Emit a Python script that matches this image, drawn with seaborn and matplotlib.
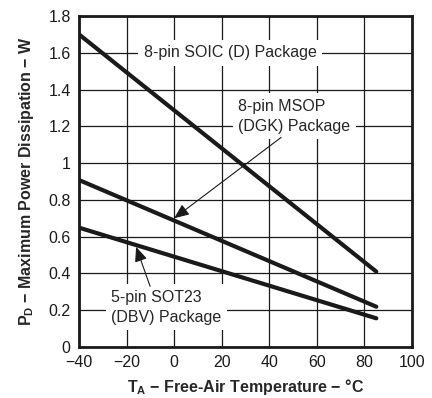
import matplotlib
matplotlib.use("Agg")
import matplotlib.pyplot as plt
import seaborn as sns
import pandas as pd

# Data
temps = [-40, 85]
soic_d = [1.70, 0.41]
msop_dgk = [0.908, 0.219]
sot23_dbv = [0.649, 0.156]
x_ticks = [-40, -20, 0, 20, 40, 60, 80, 100]
y_ticks = [0, 0.2, 0.4, 0.6, 0.8, 1.0, 1.2, 1.4, 1.6, 1.8]
y_tick_labels = ["0", "0.2", "0.4", "0.6", "0.8", "1", "1.2", "1.4", "1.6", "1.8"]

sns.set_style("white")
plt.rcParams["font.family"] = ["Liberation Sans", "DejaVu Sans"]
plt.rcParams["mathtext.fontset"] = "custom"
plt.rcParams["mathtext.rm"] = "Liberation Sans"
plt.rcParams["mathtext.bf"] = "Liberation Sans:bold"
plt.rcParams["mathtext.it"] = "Liberation Sans:italic"

df = pd.DataFrame({
    "T": temps * 3,
    "P": soic_d + msop_dgk + sot23_dbv,
    "pkg": ["SOIC"] * 2 + ["MSOP"] * 2 + ["SOT23"] * 2,
})

fig = plt.figure(figsize=(4.32, 3.98), dpi=100)
ax = fig.add_axes([79 / 432, 1 - 347 / 398, (412 - 79) / 432, (347 - 16) / 398])

sns.lineplot(data=df, x="T", y="P", units="pkg", estimator=None, color="#1a1a1a",
             lw=3.0, solid_capstyle="round", ax=ax, legend=False)

ax.set_xlim(-40, 100)
ax.set_ylim(0, 1.8)
ax.set_xticks(x_ticks)
ax.set_yticks(y_ticks)
ax.set_yticklabels(y_tick_labels)
ax.grid(True, color="#1a1a1a", lw=0.9)
ax.set_axisbelow(True)
for s in ax.spines.values():
    s.set_linewidth(2.0)
    s.set_color("#1a1a1a")
ax.tick_params(length=0, labelsize=11.5, pad=6, colors="#1a1a1a")

ax.set_xlabel(r"$\mathbf{T_A}$ − Free-Air Temperature − °C", fontsize=11.5,
              fontweight="bold", labelpad=5)
ax.set_ylabel(r"$\mathbf{P_D}$ − Maximum Power Dissipation − W", fontsize=11.5,
              fontweight="bold", labelpad=9)

box = dict(facecolor="white", edgecolor="none", pad=4)
ax.text(23.6, 1.6, "8-pin SOIC (D) Package", fontsize=11.5, ha="center", va="center",
        bbox=box, zorder=5)
ax.text(27, 1.255, "8-pin MSOP\n(DGK) Package", fontsize=11.5, ha="left", va="center",
        linespacing=1.4, bbox=box, zorder=5)
ax.text(-26.5, 0.215, "5-pin SOT23\n(DBV) Package", fontsize=11.5, ha="left", va="center",
        linespacing=1.4, bbox=box, zorder=5)

arrow = dict(arrowstyle="-|>,head_length=0.9,head_width=0.38", lw=0.8, color="#1a1a1a",
             mutation_scale=10, shrinkA=0, shrinkB=0)
ax.annotate("", xy=(0, 0.70), xytext=(45, 1.14), arrowprops=arrow, zorder=6)
ax.annotate("", xy=(-16, 0.545), xytext=(-10.1, 0.33), arrowprops=arrow, zorder=6)

fig.savefig("out.png", dpi=100)
